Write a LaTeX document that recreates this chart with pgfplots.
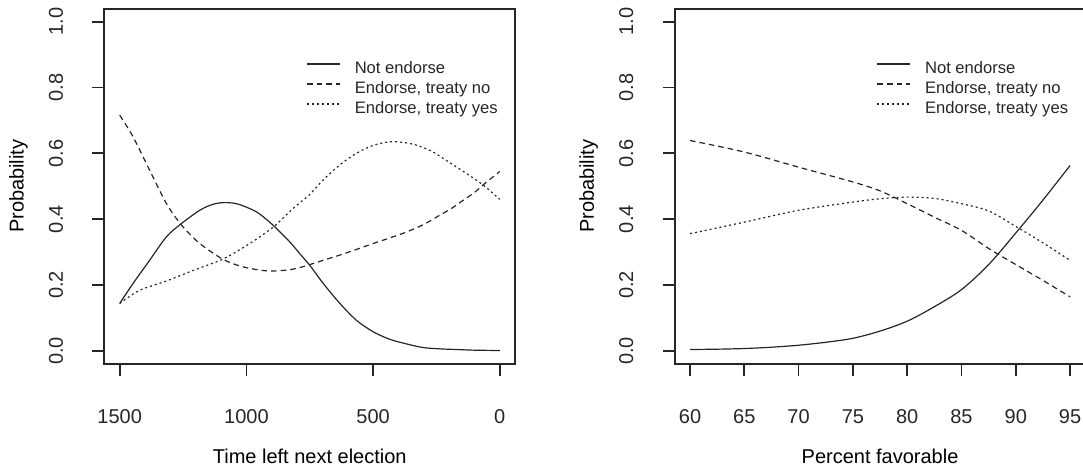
\documentclass[border=0pt]{standalone}
\usepackage{fontspec}
\setmainfont{Liberation Sans}
\usepackage{pgfplots}
\pgfplotsset{compat=1.18}
\definecolor{rink}{gray}{0.15}

\pgfplotsset{
  rpanel/.style={
    scale only axis, width=205.25pt, height=177.75pt,
    ymin=-0.04, ymax=1.04, ytick={0,0.2,0.4,0.6,0.8,1},
    axis lines=box,
    tick pos=left, tick align=outside, major tick length=6pt,
    axis line style={line width=1pt, color=rink},
    every tick/.style={line width=0.85pt, color=rink},
    tick label style={font=\fontsize{10}{12}\selectfont, text=rink},
    label style={font=\fontsize{10}{12}\selectfont, text=rink},
    /pgf/number format/assume math mode=true,
    x tick label style={anchor=center, yshift=-20.5pt},
    y tick label style={anchor=center, xshift=-18.25pt, rotate=90,
      /pgf/number format/fixed, /pgf/number format/fixed zerofill,
      /pgf/number format/precision=1},
    every axis x label/.style={at={(axis description cs:0.5,0)}, anchor=center, yshift=-46.35pt},
    every axis y label/.style={at={(axis description cs:0,0.5)}, anchor=center, xshift=-43pt, rotate=90},
    legend cell align=left,
    legend image code/.code={\draw[##1] (0pt,0pt) -- (16.35pt,0pt);},
    legend style={draw=none, fill=none, inner sep=0pt, outer sep=0pt,
      at={(axis description cs:0.492,0.872)}, anchor=north west,
      font=\fontsize{8.3}{10}\selectfont, text=rink,
      row sep=0pt, column sep=7.2pt,
      nodes={inner sep=0pt, text height=9.7pt, text depth=0.3pt}},
    after end axis/.code={\draw[line width=1pt, rink] (rel axis cs:0,0) rectangle (rel axis cs:1,1);},
  },
  curve/.style={line width=0.6pt, color=rink, smooth},
  lty2/.style={curve, dash pattern=on 2.8pt off 2pt},
  lty3/.style={curve, dash pattern=on 1pt off 1.5pt},
}

\begin{document}
\begin{tikzpicture}
\begin{axis}[rpanel, x dir=reverse, xmin=-60, xmax=1560,
  xtick={0,500,1000,1500}, /pgf/number format/1000 sep={},
  xlabel={Time left next election}, ylabel={Probability}]
\addplot[curve] coordinates {
(1500,0.144) (1447,0.205) (1382,0.275) (1316,0.346) (1256,0.387) (1184,0.427)
(1140,0.443) (1099,0.450) (1039,0.447) (960,0.422) (894,0.381) (829,0.331)
(789,0.295) (750,0.260) (697,0.205) (631,0.144) (566,0.093) (500,0.058)
(434,0.035) (368,0.021) (303,0.010) (237,0.006) (171,0.004) (100,0.002) (0,0.001)};
\addlegendentry{Not endorse}
\addplot[lty2] coordinates {
(1500,0.716) (1447,0.650) (1382,0.549) (1316,0.448) (1256,0.382) (1184,0.326)
(1092,0.278) (1013,0.255) (921,0.243) (842,0.245) (789,0.253) (750,0.262)
(697,0.275) (631,0.291) (566,0.308) (500,0.326) (434,0.343) (368,0.361)
(300,0.384) (237,0.412) (190,0.433) (145,0.457) (100,0.481) (66,0.504) (0,0.545)};
\addlegendentry{Endorse, treaty no}
\addplot[lty3] coordinates {
(1500,0.144) (1421,0.184) (1316,0.212) (1211,0.244) (1092,0.279) (987,0.326)
(894,0.376) (829,0.423) (789,0.450) (750,0.475) (697,0.519) (631,0.565)
(566,0.600) (500,0.624) (434,0.635) (380,0.633) (329,0.625) (270,0.607)
(224,0.585) (180,0.563) (132,0.539) (66,0.504) (0,0.460)};
\addlegendentry{Endorse, treaty yes}
\end{axis}

\begin{axis}[rpanel, at={(285.15pt,0pt)}, xmin=58.6, xmax=96.4,
  xtick={60,65,...,95},
  xlabel={Percent favorable}, ylabel={Probability}]
\addplot[curve] coordinates {
(60,0.004) (62.5,0.005) (65,0.007) (67.5,0.011) (70,0.017) (72.5,0.026)
(75,0.038) (77.5,0.060) (80,0.090) (82.5,0.134) (85,0.186) (87.5,0.262)
(90,0.358) (92.5,0.458) (95,0.563)};
\addlegendentry{Not endorse}
\addplot[lty2] coordinates {
(60,0.639) (65,0.604) (70,0.558) (75,0.513) (77.5,0.486) (80,0.447)
(82.5,0.406) (85,0.366) (87.5,0.311) (90,0.262) (92.5,0.214) (95,0.164)};
\addlegendentry{Endorse, treaty no}
\addplot[lty3] coordinates {
(60,0.356) (65,0.391) (70,0.427) (75,0.452) (77.5,0.462) (80,0.467)
(82.5,0.463) (85,0.447) (87.5,0.425) (90,0.378) (92.5,0.328) (95,0.275)};
\addlegendentry{Endorse, treaty yes}
\end{axis}

\pgfresetboundingbox
\path[use as bounding box] (-52.25pt,-53.5pt) rectangle (489.25pt,182pt);
\end{tikzpicture}
\end{document}
